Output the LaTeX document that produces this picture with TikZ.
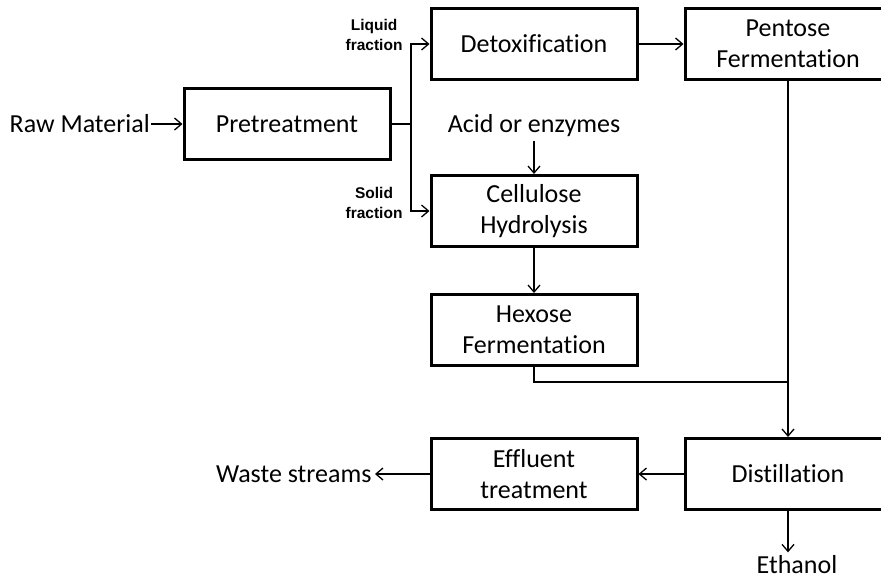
\documentclass[tikz,border=0pt]{standalone}
\usepackage{fontspec}
\setmainfont{Carlito}[Ligatures=CommonOff]
\newfontfamily\lblfont{Liberation Sans}
\usepackage{tikz}
\usetikzlibrary{arrows.meta, positioning, calc}

\begin{document}
\begin{tikzpicture}[x=1pt, y=-1pt, >={Straight Barb[length=7pt,width=12pt]},
    box/.style={draw, line width=3pt, minimum width=206pt, minimum height=71pt,
        align=center, font=\fontsize{26}{31}\selectfont},
    flow/.style={->, line width=1.3pt},
    txt/.style={font=\fontsize{26}{31}\selectfont},
    frac/.style={align=center, font=\lblfont\bfseries\fontsize{15.5}{19.5}\selectfont}]
        \clip (0,0) rectangle (881,579);
        % Process boxes
        \node [box] (pre) at (287,124) {Pretreatment};
        \node [box] (detox) at (534,44) {Detoxification};
        \node [box] (pent) at (788,44) {Pentose\\Fermentation};
        \node [box] (cell) at (534,211) {Cellulose\\Hydrolysis};
        \node [box] (hex) at (534,330) {Hexose\\Fermentation};
        \node [box] (eff) at (534,474) {Effluent\\treatment};
        \node [box] (dist) at (788,474) {Distillation};
        % Inputs and outputs
        \node [txt, anchor=east, inner sep=1pt] (raw) at (151,124) {Raw Material};
        \node [txt] (acid) at (534,126) {Acid or enzymes};
        \node [txt, anchor=east] (waste) at (375,474) {Waste streams};
        \node [txt] (eth) at (797,565) {Ethanol};
        \node [frac, anchor=east] (liq) at (406,35) {Liquid\\fraction};
        \node [frac, anchor=east] (sol) at (406,203) {Solid\\fraction};
        \coordinate (split) at (411,124);
        \coordinate (merge) at (788,382);
        % Connectors
        \draw [flow] (raw) -- (pre);
        \draw [line width=1.3pt] (pre.east) -- (split);
        \draw [flow] (split) |- (detox.west);
        \draw [flow] (split) |- (cell.west);
        \draw [flow] (detox) -- (pent);
        \draw [flow] (acid) -- (cell);
        \draw [flow] (cell) -- (hex);
        \draw [flow] (pent) -- (dist);
        \draw [line width=1.3pt] (hex.south) |- (merge);
        \draw [flow] (dist) -- (eff);
        \draw [flow] (eff) -- (waste);
        \draw [flow] (dist.south) -- (dist.south |- eth.north);
    \end{tikzpicture}
\end{document}
